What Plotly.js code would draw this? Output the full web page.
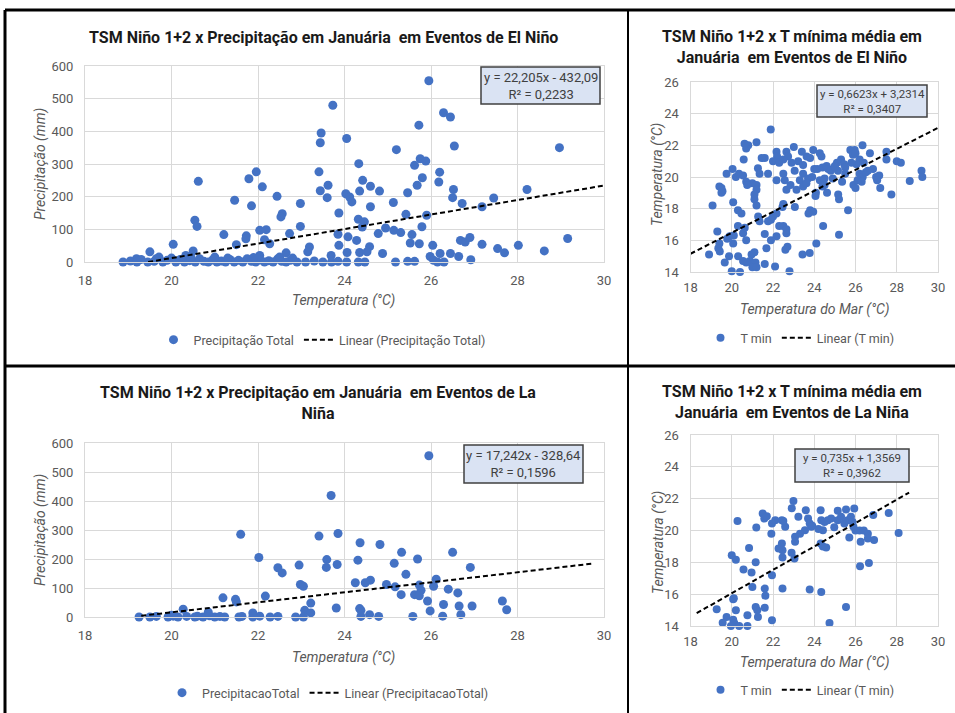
<!DOCTYPE html>
<html>
<head>
<meta charset="utf-8">
<script src="https://cdn.plot.ly/plotly-3.0.1.min.js"></script>
<style>html,body{margin:0;padding:0;background:#fff}#chart{width:955px;height:713px}</style>
</head>
<body>
<div id="chart"></div>
<script>
// ---------- DATA ----------
// Panel A: El Niño – precipitation (mm) vs TSM (°C)
const ninoPrecipX = [23.73,23.46,23.44,24.05,20.62,21.96,21.79,22.1,23.41,23.62,23.44,23.6,22.44,21.46,21.85,22.98,24.03,24.12,24.17,22.56,22.53,23.87,
  20.54,20.59,22.98,22.04,22.19,21.21,21.73,21.72,22.73,22.15,22.27,21.5,23.85,23.87,24.08,20.04,19.5,20.5,20.33,19.71,19.19,23.19,23.15,23.69,22.65,22.04,
  25.95,26.29,26.45,25.72,25.2,24.33,25.62,25.75,25.88,25.8,26.2,26.18,24.42,24.6,24.81,24.35,25.68,25.46,25.13,24.6,25.42,25.9,24.32,24.46,24.41,25.79,
  24.78,24.95,25.14,25.3,25.56,24.28,24.58,25.52,25.73,26.04,24.35,24.52,24.06,24.88,25.98,26.21,26.45,24.05,24.32,24.47,25.18,25.46,25.62,26.06,26.15,
  26.54,26.52,26.5,26.72,27.18,27.45,28.22,28.97,29.16,26.64,26.92,26.68,26.79,26.9,27.18,27.54,27.7,28.02,28.62,26.3,
  18.88,19.05,19.2,19.3,19.45,19.6,19.8,19.9,20.1,20.2,20.3,20.42,20.55,20.65,20.75,20.85,20.95,21.05,21.15,21.25,21.35,21.45,21.55,21.65,21.75,21.85,
  21.95,22.05,22.15,22.25,22.35,22.45,22.55,22.65,22.75,22.9,23.1,23.3,23.5,23.7,23.85,20.0,21.0,21.9,22.8,22.5,19.65,20.45,21.3];
const ninoPrecipY = [480,395,365,378,247,276,255,230,276,235,218,197,201,189,172,179,209,199,184,148,138,150,
  128,109,109,97,99,84,80,71,87,68,56,53,85,51,77,54,31,34,20,15,10,46,31,20,28,20,
  555,457,444,419,344,301,296,316,309,258,275,245,250,232,217,217,235,212,182,169,146,143,131,123,107,108,
  87,104,97,90,84,66,47,58,56,51,29,31,29,26,17,26,26,0,0,0,0,2,2,5,0,
  355,222,197,179,169,196,222,350,72,17,7,66,61,75,54,41,28,51,34,0,
  0,3,0,8,0,2,0,5,0,8,0,4,0,10,2,0,6,0,3,0,8,0,5,0,10,2,
  0,6,0,4,0,9,2,0,5,0,0,3,0,0,2,12,15,14,12,15,10,14,12];

// Panel B: El Niño – minimum temperature (°C) vs sea temperature (°C)
const ninoTminX = [21.89,26.34,20.8,20.7,20.62,21.2,23.01,22.17,22.2,21.6,21.45,22.65,22.73,23.95,24.27,24.35,23.63,23.8,25.75,25.96,25.88,26.7,27.5,27.5,
  20.58,23.22,23.46,22.0,22.3,22.5,25.1,25.3,25.45,25.0,25.5,26.2,26.05,26.4,28.0,28.2,21.27,21.35,20.04,19.75,20.2,20.35,20.55,21.76,22.5,23.05,23.46,23.3,
  24.0,24.15,24.4,24.6,24.68,23.7,24.27,24.5,24.8,25.0,25.15,26.2,26.35,26.5,26.85,27.0,27.15,29.2,29.24,28.63,27.2,27.74,25.9,26.1,26.3,26.0,25.35,25.2,
  25.64,25.16,24.62,24.4,24.5,24.06,24.08,23.14,23.46,23.62,22.65,22.17,22.57,23.06,22.5,22.46,23.8,23.95,23.72,24.43,24.1,25.2,23.43,23.78,21.0,21.2,
  21.2,21.1,21.1,21.2,20.7,20.75,19.5,19.55,19.5,19.07,20.07,20.3,20.47,21.28,21.35,21.76,21.9,22.0,22.17,22.3,22.5,22.65,22.17,21.9,21.6,22.65,22.7,22.6,
  21.68,21.1,20.96,20.88,21.0,21.15,21.0,21.2,20.7,20.55,21.6,22.1,22.8,20.0,20.4,19.66,19.87,20.31,20.3,20.55,20.7,19.9,19.78,20.07,19.3,19.4,19.35,19.42,
  18.9,20.63,20.1,19.4,22.9,23.4,23.9,24.9,25.5,25.8,26.0,26.6,27.05,22.85];
const ninoTminY = [23.0,22.0,22.0,21.8,22.1,22.2,21.9,21.6,21.3,21.2,21.2,21.6,21.3,21.7,21.5,21.3,21.3,21.2,21.7,21.7,21.4,21.5,21.6,21.1,
  21.1,21.0,20.75,21.0,20.9,21.1,20.9,21.1,20.8,20.7,20.6,21.1,20.8,20.9,21.0,20.9,20.55,20.2,20.5,20.2,20.0,20.2,20.1,20.2,20.2,20.4,20.2,19.8,
  20.5,20.5,20.6,20.7,20.5,19.9,19.8,19.9,20.4,20.6,20.4,20.2,20.0,20.3,20.5,20.0,20.1,20.4,20.0,19.75,19.3,18.9,19.5,19.8,19.7,19.3,19.7,18.6,
  17.9,18.9,19.0,19.4,19.5,18.8,19.0,19.2,19.4,19.6,19.2,19.8,19.8,18.1,18.3,18.1,17.9,17.8,17.7,16.9,15.8,16.35,15.1,15.2,19.6,19.5,
  19.2,18.9,18.6,18.2,19.7,19.5,19.3,19.1,19.0,18.2,18.4,17.9,17.7,17.5,17.2,17.2,17.3,17.5,17.7,16.9,16.9,16.7,16.25,16.0,16.4,16.45,15.6,15.4,
  15.5,15.25,15.1,14.7,14.5,14.6,14.3,14.3,14.6,14.7,14.5,14.35,14.05,14.05,14.0,14.6,15.0,15.0,16.9,16.45,16.0,16.25,16.1,15.8,16.55,15.8,15.5,15.3,
  15.1,16.8,16.3,19.4,20.9,21.6,20.0,19.9,20.2,20.9,21.5,20.4,19.8,19.5];

// Panel C: La Niña – precipitation (mm) vs TSM (°C)
const ninaPrecipX = [23.69,21.6,22.02,23.41,23.85,23.59,23.58,23.83,22.46,22.56,22.95,22.98,23.05,21.19,21.48,21.5,22.17,23.22,23.08,23.22,23.81,20.27,
  19.25,19.5,19.65,19.92,20.04,20.15,20.35,20.54,20.73,20.88,21.0,21.12,21.23,21.56,21.63,21.88,22.04,22.28,22.46,22.87,23.05,20.85,21.88,20.0,20.6,
  25.95,24.36,24.82,25.32,26.5,25.69,24.31,25.15,26.91,25.42,26.12,24.6,24.48,24.25,24.97,25.17,25.73,26.06,25.77,26.4,26.62,25.31,25.62,25.73,
  25.92,26.29,26.65,26.95,27.65,27.75,25.98,26.69,26.27,25.58,24.79,24.58,24.38,24.35,24.38];
const ninaPrecipY = [419,285,205,279,288,198,171,181,170,152,179,112,106,66,61,52,72,48,23,14,31,27,
  0,0,2,0,3,0,2,0,0,4,0,2,0,0,2,0,3,0,2,0,0,17,14,6,3,
  556,256,250,223,223,200,196,185,171,147,130,127,118,118,112,104,110,106,92,96,83,77,77,73,
  55,43,38,38,55,25,21,8,3,2,2,8,2,29,23];

// Panel D: La Niña – minimum temperature (°C) vs sea temperature (°C)
const ninaTminX = [22.99,22.91,23.23,23.59,24.31,25.14,25.54,25.94,27.61,26.86,21.5,21.58,20.28,22.11,22.43,22.59,21.95,21.92,21.19,23.7,23.78,23.86,
  23.55,23.31,23.07,23.07,24.34,24.5,24.42,24.66,24.82,24.97,25.14,25.3,25.46,25.62,25.78,25.86,25.9,26.0,26.2,26.4,26.6,26.6,26.9,26.25,25.7,28.09,
  26.22,26.65,24.31,24.42,24.58,22.43,22.46,22.27,22.9,23.04,22.46,20.84,21.16,20.0,20.2,20.57,20.96,21.95,21.0,21.6,21.63,22.46,23.78,24.34,25.54,
  24.74,21.95,20.07,20.1,20.2,21.16,21.24,21.27,20.76,21.6,19.75,20.07,20.12,19.56,19.96,20.36,20.76,19.27,23.9,24.2,22.5,21.7];
const ninaTminY = [21.85,21.4,20.86,21.28,21.28,21.24,21.32,21.38,21.1,20.97,21.07,20.75,20.6,20.65,20.65,20.23,20.44,19.8,20.19,20.75,20.44,20.23,
  20.02,19.8,19.6,19.29,20.65,20.54,20.02,20.65,20.75,20.2,20.65,20.86,20.44,20.65,20.86,20.54,20.23,20.0,20.0,20.0,19.8,19.5,19.4,19.29,19.56,19.85,
  17.75,17.96,19.18,19.0,18.93,19.18,18.76,18.87,18.6,18.24,18.3,18.9,18.0,18.45,18.17,17.55,17.36,17.19,16.45,16.35,15.9,16.35,16.29,16.14,15.2,
  14.19,14.36,15.68,15.75,14.99,15.2,14.99,14.57,14.67,15.15,14.57,14.4,14.19,14.21,14.0,14.0,14.0,15.05,20.3,20.1,20.6,20.9];

// Trend lines (slope, intercept, x-extent) as printed in the chart
const trendSlope     = [22.205, 0.6623, 17.242, 0.735];
const trendIntercept = [-432.09, 3.2314, -328.64, 1.3569];
const trendXStart    = [19.46, 18, 19.3, 18.3];
const trendXEnd      = [30, 30, 29.75, 28.6];
const equationText = ['y = 22,205x - 432,09<br>R² = 0,2233', 'y = 0,6623x + 3,2314<br>R² = 0,3407',
                      'y = 17,242x - 328,64<br>R² = 0,1596', 'y = 0,735x + 1,3569<br>R² = 0,3962'];
const seriesNames = ['Precipitação Total', 'T min', 'PrecipitacaoTotal', 'T min'];
const titles = ['TSM Niño 1+2 x Precipitação em Januária\u00a0 em Eventos de El Niño',
  'TSM Niño 1+2 x T mínima média em<br>Januária\u00a0 em Eventos de El Niño',
  'TSM Niño 1+2 x Precipitação em Januária\u00a0 em Eventos de La<br>Niña',
  'TSM Niño 1+2 x T mínima média em<br>Januária\u00a0 em Eventos de La Niña'];
const xTitles = ['Temperatura (°C)', 'Temperatura do Mar (°C)', 'Temperatura (°C)', 'Temperatura do Mar (°C)'];
const yTitles = ['Precipitação (mm)', 'Temperatura (°C)', 'Precipitação (mm)', 'Temperatura (°C)'];

// ---------- BUILD ----------
const W = 955, H = 713;
const PX = v => v / W, PY = v => 1 - v / H;
const FONT = 'Roboto, "Liberation Sans", sans-serif';
const BLUE = '#4472c4', GRAY = '#595959', GRID = '#d9d9d9';

const seriesX = [ninoPrecipX, ninoTminX, ninaPrecipX, ninaTminX];
const seriesY = [ninoPrecipY, ninoTminY, ninaPrecipY, ninaTminY];
const axKeys = [['x','y'], ['x2','y2'], ['x3','y3'], ['x4','y4']];
const legKeys = ['legend', 'legend2', 'legend3', 'legend4'];
const mSize = [9, 8, 9, 8];

const traces = [];
for (let i = 0; i < 4; i++) {
  traces.push({
    type: 'scatter', mode: 'markers', name: seriesNames[i],
    x: seriesX[i], y: seriesY[i], xaxis: axKeys[i][0], yaxis: axKeys[i][1],
    marker: {color: BLUE, size: mSize[i]}, cliponaxis: false, legend: legKeys[i], hoverinfo: 'x+y'
  });
  const tx = [trendXStart[i], trendXEnd[i]];
  traces.push({
    type: 'scatter', mode: 'lines', name: 'Linear (' + seriesNames[i] + ')',
    x: tx, y: tx.map(v => trendSlope[i] * v + trendIntercept[i]),
    xaxis: axKeys[i][0], yaxis: axKeys[i][1],
    line: {color: '#000', width: 2, dash: '5px,3px'}, legend: legKeys[i]
  });
}

// subplot pixel boxes [left, right, top, bottom]
const boxes = [[85, 604, 66, 262], [690.5, 938, 82, 272], [85, 604, 443, 617], [690.5, 938, 435, 626]];
const yRanges = [[0, 600], [14, 26], [0, 600], [14, 26]];
const yDticks = [100, 2, 100, 2];
const tickFont = {family: FONT, size: 13, color: GRAY};

const layout = {
  width: W, height: H, margin: {l: 0, r: 0, t: 0, b: 0},
  paper_bgcolor: '#fff', plot_bgcolor: '#fff', font: {family: FONT, color: GRAY},
  showlegend: true, shapes: [], annotations: []
};
for (let i = 0; i < 4; i++) {
  const b = boxes[i];
  const xn = i === 0 ? 'xaxis' : 'xaxis' + (i + 1);
  const yn = i === 0 ? 'yaxis' : 'yaxis' + (i + 1);
  layout[xn] = {domain: [PX(b[0]), PX(b[1])], range: [18, 30], dtick: 2, tick0: 18,
    anchor: axKeys[i][1], showgrid: true, gridcolor: GRID, zeroline: false, showline: true, mirror: true,
    linecolor: GRID, ticks: '', tickfont: tickFont, ticklabelstandoff: i % 2 ? 3 : 6, fixedrange: true};
  layout[yn] = {domain: [PY(b[3]), PY(b[2])], range: yRanges[i], dtick: yDticks[i], tick0: yRanges[i][0],
    anchor: axKeys[i][0], showgrid: true, gridcolor: GRID, zeroline: false, showline: true, mirror: true,
    linecolor: GRID, ticks: '', tickfont: tickFont, ticklabelstandoff: 8, fixedrange: true};
}

// legends
const legPos = [[322, 340], [800, 338], [328, 693], [800, 690]];
for (let i = 0; i < 4; i++) {
  layout[legKeys[i]] = {x: PX(legPos[i][0]), y: PY(legPos[i][1]), xanchor: 'center', yanchor: 'middle',
    orientation: 'h', font: {family: FONT, size: 12.5, color: GRAY}, bgcolor: 'rgba(0,0,0,0)',
    itemwidth: 30, tracegroupgap: 0};
}

// titles
const titlePos = [[323, 37], [792, 47], [318, 403], [792, 402]];
for (let i = 0; i < 4; i++) {
  layout.annotations.push({text: '<b>' + titles[i] + '</b>', xref: 'paper', yref: 'paper',
    x: PX(titlePos[i][0]), y: PY(titlePos[i][1]), xanchor: 'center', yanchor: 'middle', showarrow: false,
    font: {family: FONT, size: 16, color: '#1a1a1a'}});
}
// axis titles
const xtPos = [[343, 300], [814, 310], [343, 657], [814, 662]];
const ytPos = [[40, 164], [658, 175], [40, 530], [658, 543]];
for (let i = 0; i < 4; i++) {
  layout.annotations.push({text: '<i>' + xTitles[i] + '</i>', xref: 'paper', yref: 'paper',
    x: PX(xtPos[i][0]), y: PY(xtPos[i][1]), xanchor: 'center', yanchor: 'middle', showarrow: false,
    font: {family: FONT, size: 14, color: GRAY}});
  layout.annotations.push({text: '<i>' + yTitles[i] + '</i>', xref: 'paper', yref: 'paper', textangle: -90,
    x: PX(ytPos[i][0]), y: PY(ytPos[i][1]), xanchor: 'center', yanchor: 'middle', showarrow: false,
    font: {family: FONT, size: 14, color: GRAY}});
}
// equation boxes [x0, x1, y0, y1] pixels
const eqBox = [[481, 600, 67, 104], [817, 927, 85, 117], [464, 583, 445, 483], [795, 909, 449, 482]];
const eqSize = [13, 11.5, 13, 11.5];
for (let i = 0; i < 4; i++) {
  const e = eqBox[i];
  layout.shapes.push({type: 'rect', xref: 'paper', yref: 'paper', x0: PX(e[0]), x1: PX(e[1]), y0: PY(e[3]), y1: PY(e[2]),
    fillcolor: '#dae3f3', line: {color: '#404040', width: 1.5}});
  layout.annotations.push({text: equationText[i], xref: 'paper', yref: 'paper',
    x: PX((e[0] + e[1]) / 2), y: PY((e[2] + e[3]) / 2), xanchor: 'center', yanchor: 'middle', showarrow: false,
    font: {family: FONT, size: eqSize[i], color: '#404040'}});
}
// frame lines
const frame = [[5, 10, 955, 10, 3], [5, 10, 5, 713, 3], [628, 10, 628, 713, 2], [5, 366, 955, 366, 3]];
frame.forEach(f => layout.shapes.push({type: 'line', xref: 'paper', yref: 'paper',
  x0: PX(f[0]), y0: PY(f[1]), x1: PX(f[2]), y1: PY(f[3]), line: {color: '#000', width: f[4]}}));

Plotly.newPlot('chart', traces, layout, {displayModeBar: false, staticPlot: true});
</script>
</body>
</html>
